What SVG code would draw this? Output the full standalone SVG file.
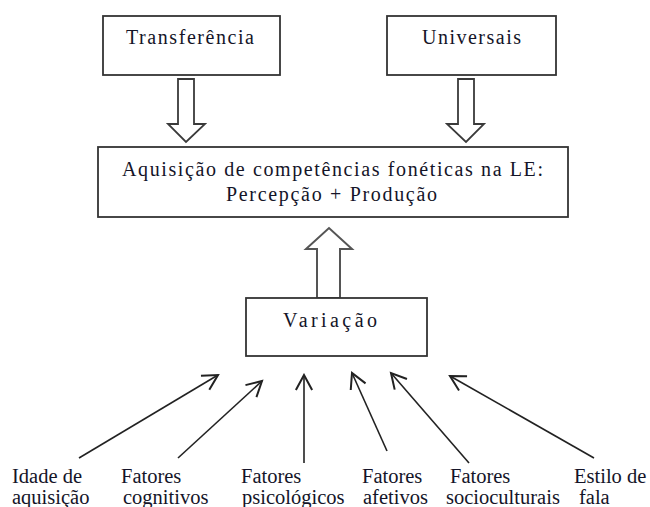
<svg xmlns="http://www.w3.org/2000/svg" width="650" height="507" viewBox="0 0 650 507">
<defs>
<style>
.box{fill:#fff;stroke:#333;stroke-width:1.8}
.block{fill:#fff;stroke:#3a3a3a;stroke-width:1.8;stroke-linejoin:miter}
.t{font-family:"Liberation Serif",serif;font-size:20px;fill:#141428}
.lb{font-family:"Liberation Serif",serif;font-size:20.5px;fill:#141428}
.ln{stroke:#222;stroke-width:1.6;fill:none;marker-end:url(#open)}
</style>
<marker id="open" markerUnits="userSpaceOnUse" markerWidth="20" markerHeight="20" viewBox="-14 -8 16 16" refX="0" refY="0" orient="auto">
<path d="M-12,-6.5 L0,0 L-12,6.5" fill="none" stroke="#222" stroke-width="1.6"/>
</marker>
</defs>
<rect width="650" height="507" fill="#fff"/>
<g id="connectors">
<polygon class="block" points="178,79 194,79 194,124 205,124 186,142 168,124 178,124"/>
<polygon class="block" points="458,79 474,79 474,124 484,124 466,142 447,124 458,124"/>
<polygon class="block" style="stroke:#555;stroke-width:2" points="317,298 317,249 306,249 329,228 352,249 340,249 340,298"/>
<line class="ln" x1="79" y1="458" x2="218" y2="375"/>
<line class="ln" x1="178" y1="458" x2="262" y2="381"/>
<line class="ln" x1="304" y1="463" x2="304" y2="375"/>
<line class="ln" x1="387" y1="451" x2="352" y2="373"/>
<line class="ln" x1="469" y1="463" x2="391" y2="373"/>
<line class="ln" x1="594" y1="458" x2="450" y2="376"/>
</g>
<g id="transferencia">
<rect class="box" x="103" y="16" width="177" height="59"/>
<text class="t" x="126" y="44" font-family="Liberation Serif" textLength="128" lengthAdjust="spacing">Transferência</text>
</g>
<g id="universais">
<rect class="box" x="387" y="16" width="169" height="59"/>
<text class="t" x="422" y="44" font-family="Liberation Serif" textLength="99" lengthAdjust="spacing">Universais</text>
</g>
<g id="aquisicao">
<rect class="box" x="98" y="147" width="470" height="70"/>
<text class="t" x="122" y="176" textLength="421" lengthAdjust="spacing">Aquisição de competências fonéticas na LE:</text>
<text class="t" x="226" y="201" textLength="211" lengthAdjust="spacing">Percepção + Produção</text>
</g>
<g id="variacao">
<rect class="box" x="246" y="298" width="181" height="58"/>
<text class="t" x="283" y="327" textLength="94" lengthAdjust="spacing">Variação</text>
</g>
<g id="idade">
<text class="lb" x="12" y="483">Idade de</text>
<text class="lb" x="12" y="504">aquisição</text>
</g>
<g id="cognitivos">
<text class="lb" x="121" y="483">Fatores</text>
<text class="lb" x="123" y="504">cognitivos</text>
</g>
<g id="psicologicos">
<text class="lb" x="241" y="483">Fatores</text>
<text class="lb" x="242" y="504">psicológicos</text>
</g>
<g id="afetivos">
<text class="lb" x="362" y="483">Fatores</text>
<text class="lb" x="363" y="504">afetivos</text>
</g>
<g id="socioculturais">
<text class="lb" x="450" y="483">Fatores</text>
<text class="lb" x="446" y="504">socioculturais</text>
</g>
<g id="estilo">
<text class="lb" x="574" y="483">Estilo de</text>
<text class="lb" x="579" y="504">fala</text>
</g>
</svg>
